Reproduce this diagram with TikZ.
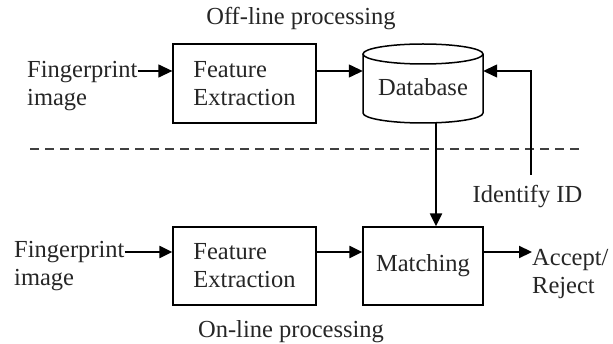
\documentclass[tikz,border=0pt]{standalone}
\usepackage{fontspec}
\setmainfont{Liberation Serif}
\usetikzlibrary{arrows.meta,calc}
\begin{document}
\begin{tikzpicture}[x=1pt,y=1pt,
  txt/.style={font=\fontsize{24.5}{28}\selectfont, text=black!85, inner sep=0pt, align=left},
  box/.style={draw, line width=1.3pt, minimum width=143pt, minimum height=79pt, inner sep=0pt,
     font=\fontsize{24.5}{28}\selectfont, text=black!85, align=left},
  thin arrow/.style={line width=1.3pt, -{Triangle[length=14pt,width=13pt]}},
  thick arrow/.style={line width=2.2pt, -{Triangle[length=13pt,width=12pt]}},
  dbline/.style={line width=1.5pt}
]
\useasboundingbox[fill=white] (0,0) rectangle (613,343);
% rows
\coordinate (r1) at (0,272);
\coordinate (r2) at (0,91);
\coordinate (colx) at (436,0);
% labels
\node[txt] (off) at (301,324) {Off-line processing};
\node[txt] (on) at (291,11) {On-line processing};
% top row
\node[txt, anchor=west] (fp1) at (27,257) {Fingerprint\\image};
\node[box] (fe1) at (244.5,259.5) {Feature\\Extraction};
\node[minimum width=120pt, minimum height=79pt, inner sep=0pt] (db) at (423,259.5) {};
\draw[dbline] (363,289) -- (363,230) arc[start angle=180,end angle=360,x radius=60,y radius=10] -- (483,289);
\draw[dbline] (423,289) ellipse[x radius=60,y radius=10];
\node[txt] (dbt) at (423,256) {Database};
% bottom row
\node[txt, anchor=west] (fp2) at (14,77) {Fingerprint\\image};
\node[box, minimum height=78pt] (fe2) at (244.5,77) {Feature\\Extraction};
\node[box, minimum width=120pt, minimum height=78pt] (mt) at (423,77) {Matching};
\node[txt, anchor=west] (acc) at (532,69) {Accept/\\Reject};
\node[txt] (idn) at (527.5,146) {Identify ID};
\coordinate (idtop) at (531,168);
% dashed separator
\coordinate (dl) at (30,194);
\coordinate (dr) at (580,194);
\draw[line width=1.4pt, dash pattern=on 9pt off 6pt, black!75] (dl) -- (dr);
% connectors
\draw[thin arrow] (fp1.east |- r1) -- (fe1.west |- r1);
\draw[thin arrow] (fe1.east |- r1) -- (db.west |- r1);
\draw[thin arrow] (idtop) |- (db.east |- r1);
\draw[thick arrow] (db.south -| colx) -- (mt.north -| colx);
\draw[thick arrow] (fp2.east |- r2) -- (fe2.west |- r2);
\draw[thick arrow] (fe2.east |- r2) -- (mt.west |- r2);
\draw[thick arrow] (mt.east |- r2) -- (acc.west |- r2);
\end{tikzpicture}
\end{document}
